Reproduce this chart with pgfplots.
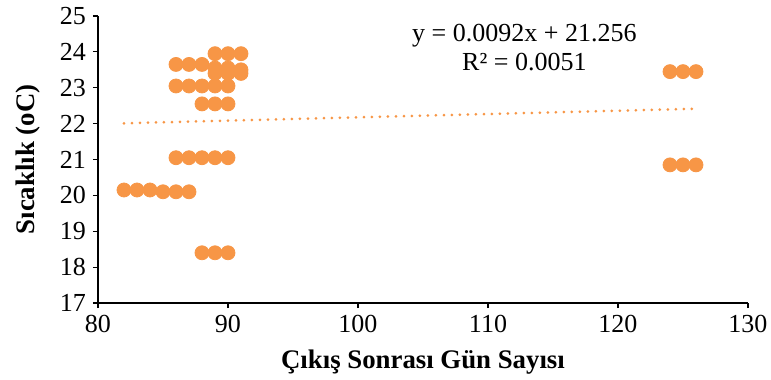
\documentclass[border=0pt]{standalone}
\usepackage{pgfplots}
\pgfplotsset{compat=1.18}
\usepackage{fontspec}
\setmainfont{Liberation Serif}
\definecolor{ptc}{RGB}{247,150,70}
\begin{document}
\begin{tikzpicture}
\path[use as bounding box] (-49pt,-38.5pt) rectangle (336.5pt,151.5pt);
\begin{axis}[
  at={(0pt,0pt)}, anchor=origin,
  scale only axis, width=325pt, height=143.5pt,
  xmin=80, xmax=130, ymin=17, ymax=25,
  xtick={80,90,...,130}, ytick={17,18,...,25},
  axis lines=left, axis line style={-, line width=0.6pt},
  tick align=outside, major tick length=2.5pt,
  tick style={black, line width=0.6pt},
  /pgf/number format/assume math mode=true,
  ticklabel style={font=\fontsize{13}{15}\selectfont},
  label style={font=\fontsize{13.4}{16}\selectfont\bfseries},
  xlabel={Çıkış Sonrası Gün Sayısı},
  ylabel={Sıcaklık (oC)},
  xlabel style={at={(axis description cs:0.5,-0.2056)}, anchor=center},
  ylabel style={at={(axis description cs:-0.1077,0.5)}, anchor=center},
  clip=false,
]
\addplot[only marks, mark=*, mark size=3.5pt, mark options={draw=ptc, fill=ptc}] coordinates {
 (82,20.15) (83,20.15) (84,20.15) (85,20.1) (86,20.1) (87,20.1)
 (88,18.4) (89,18.4) (90,18.4)
 (86,21.05) (87,21.05) (88,21.05) (89,21.05) (90,21.05)
 (88,22.55) (89,22.55) (90,22.55)
 (86,23.05) (87,23.05) (88,23.05) (89,23.05) (90,23.05)
 (86,23.65) (87,23.65) (88,23.65)
 (89,23.4) (90,23.4) (91,23.4) (89,23.55) (90,23.55) (91,23.5)
 (89,23.95) (90,23.95) (91,23.95)
 (124,23.45) (125,23.45) (126,23.45)
 (124,20.85) (125,20.85) (126,20.85)
};
\addplot[ptc, line width=1.5pt, line cap=round, dash pattern=on 0pt off 4pt] coordinates {(82,22.0104) (126,22.4152)};
\node[font=\fontsize{13}{15}\selectfont] at (axis cs:112.8,24.45) {y = 0.0092x + 21.256};
\node[font=\fontsize{13}{15}\selectfont] at (axis cs:112.8,23.73) {R² = 0.0051};
\end{axis}
\end{tikzpicture}
\end{document}
